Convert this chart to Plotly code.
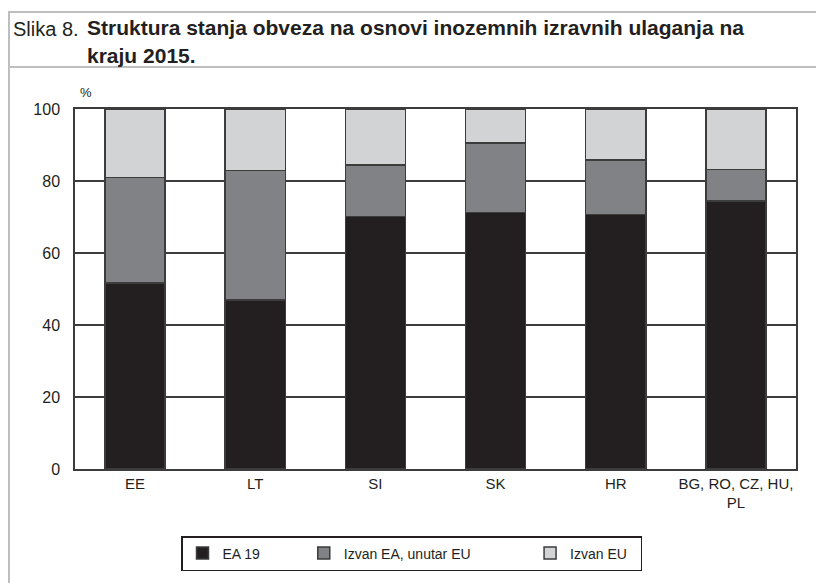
import plotly.graph_objects as go

categories = ["EE", "LT", "SI", "SK", "HR", "BG, RO, CZ, HU,<br>PL"]
ea19 = [51.7, 46.9, 70.1, 71.2, 70.7, 74.5]
izvan_ea_unutar_eu = [29.3, 36.0, 14.3, 19.3, 15.2, 8.7]
izvan_eu = [19.0, 17.1, 15.6, 9.5, 14.1, 16.8]

series_names = ["EA 19", "Izvan EA, unutar EU", "Izvan EU"]
series_values = [ea19, izvan_ea_unutar_eu, izvan_eu]
colors = ["#231f20", "#808285", "#d1d3d4"]
legend_pad = ["\u00a0" * 10, "\u00a0" * 14, "\u00a0" * 2]

FONT = "Liberation Sans, Arial, sans-serif"
INK = "#231f20"

# page has an 8px body margin; plot area in page px: x 75..796, y 109..469
def px(X):
    return (X - 75) / 721.0

def py(Y):
    return (469 - Y) / 360.0

fig = go.Figure()
for name, vals, col, pad in zip(series_names, series_values, colors, legend_pad):
    fig.add_trace(go.Bar(
        x=categories, y=vals, name=name + pad,
        marker=dict(color=col, line=dict(color="#3c3c3c", width=1.5)),
    ))

fig.update_layout(
    barmode="stack",
    bargap=0.5,
    width=816, height=575,
    margin=dict(l=67, r=28, t=101, b=114),
    paper_bgcolor="white",
    plot_bgcolor="white",
    font=dict(family=FONT, size=14, color=INK),
    showlegend=True,
    legend=dict(
        orientation="h",
        x=px(181), xanchor="left",
        y=py(536), yanchor="top",
        bordercolor=INK, borderwidth=1.5,
        font=dict(size=14, family=FONT, color=INK),
        traceorder="normal",
        itemwidth=30,
    ),
    xaxis=dict(
        showline=True, linecolor="#3c3c3c", linewidth=1.5, mirror=True,
        ticks="", tickfont=dict(size=15, family=FONT, color=INK),
        showgrid=False,
    ),
    yaxis=dict(
        range=[0, 100], tickvals=[0, 20, 40, 60, 80, 100],
        showline=True, linecolor="#3c3c3c", linewidth=1.5, mirror=True,
        showgrid=True, gridcolor="#3c3c3c", gridwidth=1.5,
        ticks="", ticklabelstandoff=10,
        tickfont=dict(size=16, family=FONT, color=INK),
        zeroline=False,
    ),
    shapes=[
        dict(type="line", xref="paper", yref="paper", x0=px(8), x1=px(830),
             y0=py(12), y1=py(12),
             line=dict(color="#bcbec0", width=2)),
        dict(type="line", xref="paper", yref="paper", x0=px(8), x1=px(830),
             y0=py(67), y1=py(67),
             line=dict(color="#bcbec0", width=2)),
        dict(type="line", xref="paper", yref="paper", x0=px(9), x1=px(9),
             y0=py(12), y1=py(600),
             line=dict(color="#bcbec0", width=2)),
    ],
    annotations=[
        dict(text="Slika 8.", xref="paper", yref="paper",
             x=px(11), y=py(29),
             xanchor="left", yanchor="middle", showarrow=False,
             font=dict(size=20, family=FONT, color=INK)),
        dict(text="<b>Struktura stanja obveza na osnovi inozemnih izravnih ulaganja na</b>",
             xref="paper", yref="paper",
             x=px(85), y=py(28),
             xanchor="left", yanchor="middle", align="left", showarrow=False,
             font=dict(size=21, family=FONT, color=INK)),
        dict(text="<b>kraju 2015.</b>",
             xref="paper", yref="paper",
             x=px(85), y=py(55),
             xanchor="left", yanchor="middle", align="left", showarrow=False,
             font=dict(size=21, family=FONT, color=INK)),
        dict(text="%", xref="paper", yref="paper",
             x=px(78), y=py(83),
             xanchor="left", yanchor="top", showarrow=False,
             font=dict(size=13, family=FONT, color=INK)),
    ],
)

fig.write_html("out.html")
